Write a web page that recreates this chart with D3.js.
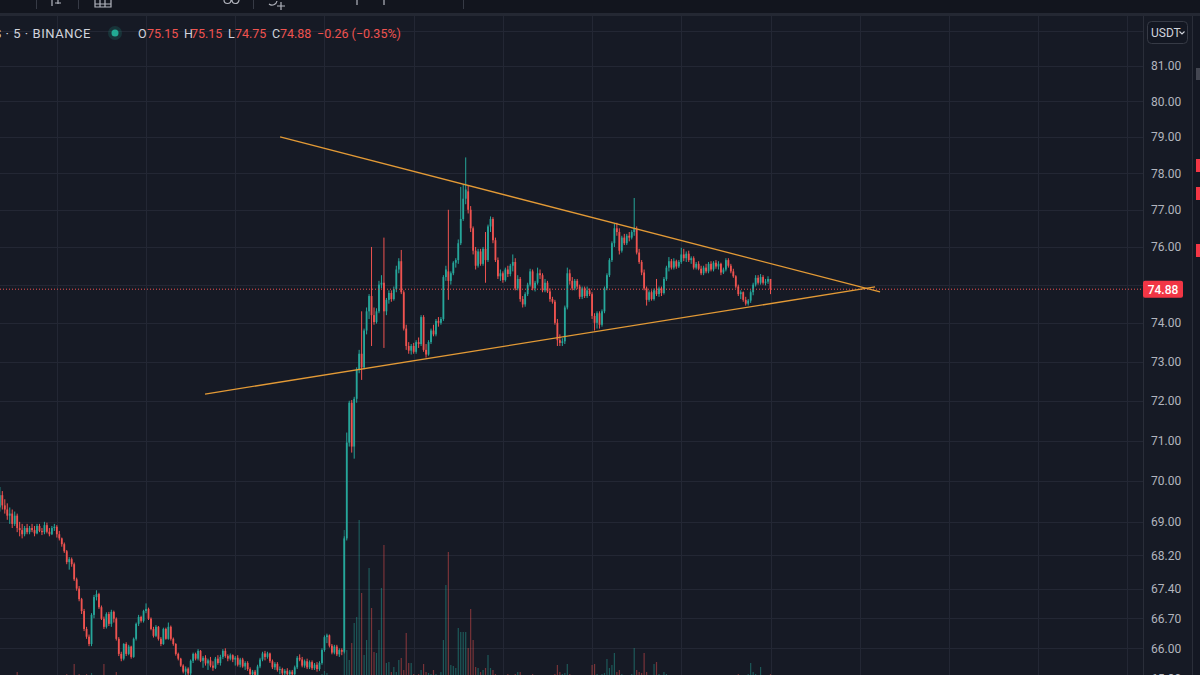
<!DOCTYPE html>
<html><head><meta charset="utf-8">
<script src="https://cdn.jsdelivr.net/npm/d3@7"></script>
<style>html,body{margin:0;padding:0;background:#161a25;overflow:hidden}</style>
</head><body><svg id="c" width="1200" height="675"></svg>
<script>
// ---- DATA (5-minute candles, open/high/low/close) ----
const ohlc = [
[69.35,69.85,69.25,69.65],[69.65,69.75,69.30,69.40],[69.40,69.55,69.20,69.30],[69.30,69.45,69.05,69.15],[69.15,69.35,68.95,69.20],
[69.20,69.30,68.85,68.95],[68.95,69.25,68.90,69.15],[69.15,69.20,68.75,68.85],[68.85,69.00,68.65,68.80],[68.80,68.95,68.60,68.70],
[68.70,68.90,68.65,68.85],[68.85,68.95,68.70,68.75],[68.75,68.90,68.70,68.85],[68.85,68.95,68.75,68.80],[68.80,68.90,68.65,68.72],
[68.72,68.95,68.70,68.90],[68.90,68.95,68.75,68.78],[68.78,68.85,68.68,68.75],[68.75,69.00,68.70,68.92],[68.92,68.98,68.72,68.76],
[68.76,68.85,68.65,68.70],[68.70,68.90,68.68,68.85],[68.85,68.95,68.78,68.88],[68.88,68.92,68.62,68.70],[68.70,68.78,68.55,68.60],
[68.60,68.62,68.40,68.46],[68.46,68.50,68.25,68.29],[68.29,68.32,67.98,68.03],[68.03,68.15,67.85,68.10],[68.10,68.14,67.92,67.98],
[67.98,68.02,67.58,67.62],[67.62,67.66,67.35,67.40],[67.40,67.46,67.10,67.15],[67.15,67.18,66.80,66.87],[66.87,66.92,66.40,66.45],
[66.45,66.50,66.22,66.27],[66.27,66.32,66.05,66.10],[66.10,66.82,66.05,66.78],[66.78,67.25,66.70,67.20],[67.20,67.36,67.12,67.27],
[67.27,67.30,66.92,66.96],[66.96,67.00,66.66,66.69],[66.69,66.74,66.45,66.50],[66.50,66.84,66.46,66.80],[66.80,66.85,66.52,66.57],
[66.57,66.90,66.50,66.85],[66.85,66.88,66.60,66.69],[66.69,66.72,66.18,66.22],[66.22,66.26,65.82,65.87],[65.87,65.92,65.70,65.76],
[65.76,66.12,65.72,66.10],[66.10,66.14,65.82,65.87],[65.87,66.08,65.84,66.04],[66.04,66.06,65.76,65.80],[65.80,66.25,65.78,66.22],
[66.22,66.60,66.18,66.57],[66.57,66.78,66.52,66.73],[66.73,66.76,66.60,66.64],[66.64,66.90,66.60,66.87],[66.87,67.05,66.82,66.92],
[66.92,66.95,66.66,66.69],[66.69,66.72,66.42,66.45],[66.45,66.50,66.25,66.29],[66.29,66.54,66.26,66.50],[66.50,66.52,66.18,66.22],
[66.22,66.26,66.05,66.10],[66.10,66.48,66.08,66.45],[66.45,66.48,66.20,66.22],[66.22,66.60,66.20,66.50],[66.50,66.53,66.18,66.22],
[66.22,66.25,66.06,66.10],[66.10,66.12,65.83,65.87],[65.87,65.90,65.72,65.76],[65.76,65.78,65.57,65.60],[65.60,65.63,65.42,65.46],
[65.46,65.58,65.38,65.53],[65.53,65.56,65.35,65.42],[65.42,65.74,65.38,65.71],[65.71,65.90,65.66,65.87],[65.87,65.90,65.72,65.76],
[65.76,65.98,65.72,65.94],[65.94,65.96,65.68,65.71],[65.71,65.82,65.55,65.78],[65.78,65.84,65.60,65.65],[65.65,65.76,65.50,65.72],
[65.72,65.80,65.56,65.60],[65.60,65.70,65.48,65.55],[65.55,65.80,65.52,65.76],[65.76,65.84,65.62,65.66],[65.66,65.85,65.60,65.80],
[65.80,65.98,65.75,65.94],[65.94,66.00,65.78,65.82],[65.82,65.86,65.70,65.76],[65.76,65.88,65.72,65.84],[65.84,65.86,65.68,65.74],
[65.74,65.82,65.60,65.78],[65.78,65.84,65.58,65.62],[65.62,65.78,65.56,65.74],[65.74,65.78,65.55,65.58],[65.58,65.70,65.50,65.66],
[65.66,65.70,65.48,65.52],[65.52,65.56,65.36,65.40],[65.40,65.50,65.33,65.46],[65.46,65.50,65.34,65.38],[65.38,65.62,65.35,65.58],
[65.58,65.78,65.54,65.74],[65.74,65.92,65.70,65.88],[65.88,65.94,65.72,65.80],[65.80,65.92,65.76,65.88],[65.88,65.90,65.66,65.70],
[65.70,65.74,65.52,65.56],[65.56,65.68,65.50,65.64],[65.64,65.68,65.46,65.50],[65.50,65.58,65.40,65.52],[65.52,65.55,65.36,65.42],
[65.42,65.52,65.36,65.48],[65.48,65.54,65.35,65.40],[65.40,65.50,65.34,65.46],[65.46,65.50,65.35,65.40],[65.40,65.60,65.36,65.56],
[65.56,65.82,65.52,65.78],[65.78,65.86,65.70,65.74],[65.74,65.80,65.56,65.60],[65.60,65.74,65.55,65.70],[65.70,65.76,65.52,65.56],
[65.56,65.72,65.52,65.68],[65.68,65.72,65.50,65.54],[65.54,65.66,65.50,65.62],[65.62,65.68,65.46,65.52],[65.52,65.70,65.48,65.66],
[65.66,66.00,65.62,65.96],[65.96,66.30,65.92,66.26],[66.26,66.34,66.12,66.30],[66.30,66.32,66.02,66.06],[66.06,66.10,65.86,65.90],
[65.90,66.08,65.86,66.04],[66.04,66.08,65.82,65.86],[65.86,66.00,65.80,65.96],[65.96,66.00,65.84,65.92],[65.92,68.65,65.88,68.60],
[68.60,71.20,68.55,70.95],[70.95,72.00,70.85,71.95],[71.95,72.02,70.70,70.85],[70.85,72.10,70.55,72.05],[72.05,72.85,71.95,72.80],
[72.80,73.30,72.70,73.20],[73.20,74.30,72.53,72.85],[72.85,73.85,72.80,73.80],[73.80,74.40,73.70,74.30],[74.30,74.75,74.10,74.70],
[74.70,76.00,73.40,74.20],[74.20,74.40,73.95,74.02],[74.02,74.38,73.98,74.30],[74.30,75.10,74.25,75.00],[75.00,75.25,74.90,75.05],
[75.05,76.25,73.35,74.30],[74.30,74.65,74.20,74.60],[74.60,74.85,74.50,74.78],[74.78,74.85,74.55,74.62],[74.62,74.95,74.58,74.88],
[74.88,75.50,74.80,75.40],[75.40,75.70,75.30,75.62],[75.62,75.92,74.75,74.80],[74.80,74.85,73.80,73.85],[73.85,73.95,73.30,73.40],
[73.40,73.50,73.20,73.28],[73.28,73.45,73.18,73.40],[73.40,73.48,73.20,73.25],[73.25,73.55,73.20,73.50],[73.50,73.62,73.35,73.45],
[73.45,74.20,73.40,74.15],[74.15,74.20,73.25,73.30],[73.30,73.45,73.10,73.18],[73.18,73.55,73.15,73.50],[73.50,73.85,73.45,73.80],
[73.80,73.95,73.65,73.70],[73.70,74.10,73.65,74.05],[74.05,74.15,73.90,74.00],[74.00,74.15,73.95,74.10],[74.10,75.25,74.05,75.20],
[75.20,75.50,75.10,75.40],[75.35,77.00,74.60,75.10],[75.10,75.35,75.00,75.30],[75.30,75.62,75.25,75.58],[75.58,75.70,75.45,75.65],
[75.65,76.20,75.55,76.10],[76.10,77.62,76.05,76.75],[76.75,77.70,76.70,77.30],[77.30,78.43,77.15,77.55],[77.50,77.65,76.90,77.00],
[77.00,77.10,76.40,76.50],[76.50,76.55,75.80,75.90],[75.90,76.00,75.40,75.50],[75.50,75.95,75.45,75.88],[75.88,75.95,75.50,75.55],
[75.55,76.00,75.50,75.95],[75.95,76.40,75.05,75.65],[75.65,76.60,75.60,76.55],[76.55,76.82,76.40,76.75],[76.75,76.80,76.10,76.18],
[76.18,76.25,75.60,75.65],[75.65,75.72,75.15,75.22],[75.22,75.40,75.10,75.30],[75.30,75.35,75.05,75.12],[75.12,75.45,75.08,75.40],
[75.40,75.50,75.20,75.28],[75.28,75.55,75.22,75.50],[75.50,75.80,75.35,75.60],[75.60,75.70,74.85,74.90],[74.90,75.25,74.85,75.15],
[75.15,75.20,74.55,74.62],[74.62,74.70,74.40,74.48],[74.48,74.80,74.42,74.75],[74.75,75.05,74.70,75.00],[75.00,75.42,74.95,75.35],
[75.35,75.40,74.85,74.90],[74.90,75.10,74.82,75.05],[75.05,75.45,75.00,75.30],[75.30,75.40,75.15,75.25],[75.25,75.30,74.80,74.85],
[74.85,75.15,74.80,75.05],[75.05,75.10,74.78,74.82],[74.82,74.90,74.55,74.62],[74.62,74.68,74.50,74.55],[74.55,74.60,73.95,74.00],
[74.00,74.10,73.40,73.55],[73.55,73.70,73.40,73.48],[73.48,73.60,73.40,73.52],[73.52,74.45,73.45,74.40],[74.40,75.45,74.35,75.30],
[75.30,75.40,75.00,75.10],[75.10,75.20,74.85,74.90],[74.90,75.15,74.85,75.10],[75.10,75.15,74.88,74.95],[74.95,75.00,74.62,74.68],
[74.68,74.95,74.62,74.90],[74.90,74.95,74.65,74.70],[74.70,74.95,74.65,74.85],[74.85,74.90,74.70,74.75],[74.75,74.80,74.10,74.18],
[74.18,74.25,73.80,74.00],[74.00,74.30,73.85,74.25],[74.25,74.30,73.85,73.95],[73.95,74.35,73.90,74.30],[74.30,74.95,74.25,74.90],
[74.90,75.30,74.85,75.25],[75.25,75.70,75.20,75.65],[75.65,76.15,75.60,76.10],[76.10,76.62,76.00,76.50],[76.50,76.65,76.30,76.40],
[76.40,76.50,75.80,75.90],[75.90,76.30,75.85,76.25],[76.25,76.35,76.05,76.10],[76.10,76.35,76.05,76.30],[76.30,76.40,76.15,76.25],
[76.25,76.45,76.20,76.40],[76.40,77.32,76.30,76.48],[76.48,76.55,75.80,75.85],[75.85,75.95,75.55,75.60],[75.60,75.65,75.25,75.32],
[75.32,75.40,74.85,74.90],[74.90,74.95,74.45,74.60],[74.60,74.85,74.55,74.80],[74.80,74.85,74.58,74.62],[74.62,74.90,74.58,74.85],
[74.85,75.15,74.70,74.75],[74.75,74.95,74.68,74.90],[74.90,74.95,74.70,74.78],[74.78,75.20,74.74,75.15],[75.15,75.50,75.10,75.45],
[75.45,75.73,75.35,75.62],[75.62,75.68,75.40,75.45],[75.45,75.70,75.40,75.62],[75.62,75.66,75.42,75.48],[75.48,75.65,75.44,75.60],
[75.60,75.98,75.55,75.80],[75.80,75.95,75.62,75.70],[75.70,75.88,75.60,75.82],[75.82,75.90,75.60,75.65],[75.65,75.75,75.55,75.70],
[75.70,75.75,75.40,75.45],[75.45,75.60,75.40,75.55],[75.55,75.62,75.38,75.42],[75.42,75.50,75.25,75.30],[75.30,75.50,75.25,75.45],
[75.45,75.55,75.30,75.35],[75.35,75.60,75.30,75.55],[75.55,75.62,75.35,75.40],[75.40,75.62,75.35,75.58],[75.58,75.65,75.42,75.48],
[75.48,75.62,75.40,75.55],[75.55,75.58,75.25,75.32],[75.32,75.45,75.28,75.40],[75.40,75.70,75.35,75.65],[75.65,75.70,75.45,75.50],
[75.50,75.55,75.30,75.35],[75.35,75.42,75.18,75.22],[75.22,75.25,74.90,74.95],[74.95,75.00,74.70,74.75],[74.75,74.85,74.62,74.80],
[74.80,74.82,74.55,74.60],[74.60,74.68,74.45,74.50],[74.50,74.62,74.45,74.58],[74.58,74.85,74.52,74.80],[74.80,75.05,74.72,75.00],
[75.00,75.25,74.95,75.18],[75.18,75.25,75.00,75.05],[75.05,75.28,75.00,75.20],[75.20,75.25,75.00,75.05],[75.05,75.15,74.98,75.08],
[75.08,75.22,75.02,75.15],[75.15,75.15,74.75,74.88]
];
const volumes = [
3,4,3,3,2,3,4,8,3,2,3,2,3,2,3,4,2,3,4,3,
3,2,3,3,4,5,4,6,3,4,16,5,6,4,5,6,4,7,5,3,
4,5,16,4,3,4,3,8,5,3,4,3,2,3,4,5,3,2,3,4,
3,4,3,2,3,4,3,2,4,3,2,3,4,5,3,2,3,4,3,2,
3,2,3,2,3,2,3,4,2,3,4,3,2,3,2,3,2,3,2,3,
2,3,4,2,3,4,3,2,3,2,3,2,3,2,2,3,2,3,2,3,
4,3,2,3,2,3,2,3,2,3,6,9,7,4,3,3,4,3,5,
150,30,20,37,57,63,160,87,25,40,112,72,28,27,50,92,135,17,18,8,13,
8,20,22,10,47,17,17,6,5,6,10,16,8,7,6,10,6,5,8,40,
95,128,15,14,12,52,48,48,48,32,71,40,13,12,8,10,12,25,12,10,
6,5,4,5,4,6,5,4,6,8,8,5,4,4,5,6,4,5,4,5,
4,5,4,5,6,15,8,6,7,16,6,5,4,5,4,5,4,3,4,15,
16,6,5,6,7,21,12,15,27,8,10,6,5,4,5,6,32,10,8,7,
27,8,5,4,16,18,6,5,8,6,5,4,5,4,3,5,4,3,4,3,
4,3,4,3,4,3,4,3,4,3,4,3,4,3,4,3,5,4,6,5,
4,5,6,17,8,6,5,13,5,4,5,6
];
const priceTicks = [82, 81, 80, 79, 78, 77, 76, 75, 74, 73, 72, 71, 70, 69, 68.2, 67.4, 66.7, 66, 65.3];
const candlesPerGrid = 36;
const trendUpper = [[113.1, 79.00], [355.2, 74.81]];
const trendLower = [[82.8, 72.17], [353.2, 74.94]];
const lastPrice = 74.88;
const legendKeys = ["O", "H", "L", "C"];
const legendValues = ["75.15", "75.15", "74.75", "74.88"];
const legendChange = "\u22120.26 (\u22120.35%)";
const symbolTitle = "Litecoin / TetherUS \u00b7 5 \u00b7 BINANCE";
const currency = "USDT";

// ---- LAYOUT ----
const W = 1200, H = 675;
const plotRight = 1143, plotTop = 16;
const BG = "#161a25", GRID = "#232734", BORDER = "#2a2e39";
const UP = "#26a69a", DOWN = "#ef5350";
const FONT = "Roboto, 'Noto Sans', sans-serif";

const n = ohlc.length;
const x = d3.scaleLinear().domain([0, n - 1]).range([-0.16, 770.5]);
const y = d3.scaleLog().domain([66, 81]).range([648.3, 65.7]);
const yv = d3.scaleLinear().domain([0, 160]).range([680, 520]);

const svg = d3.select("#c");
svg.append("rect").attr("width", W).attr("height", H).attr("fill", BG);

svg.append("defs").append("clipPath").attr("id", "plot")
  .append("rect").attr("x", 0).attr("y", plotTop).attr("width", plotRight).attr("height", H - plotTop);

const plot = svg.append("g").attr("clip-path", "url(#plot)");

// grid - horizontal
plot.append("g").selectAll("line").data(priceTicks).join("line")
  .attr("x1", 0).attr("x2", plotRight)
  .attr("y1", d => Math.round(y(d)) + 0.5).attr("y2", d => Math.round(y(d)) + 0.5)
  .attr("stroke", GRID).attr("stroke-width", 1);
// grid - vertical (every 36 candles = 3 hours)
const vIdx = d3.range(-8, 5).map(k => (n - 1) + k * candlesPerGrid);
plot.append("g").selectAll("line").data(vIdx).join("line")
  .attr("x1", d => Math.round(x(d)) + 0.5).attr("x2", d => Math.round(x(d)) + 0.5)
  .attr("y1", plotTop).attr("y2", H)
  .attr("stroke", GRID).attr("stroke-width", 1);

// volume
const vols = volumes.slice(0, n);
plot.append("g").selectAll("rect").data(vols).join("rect")
  .attr("x", (d, i) => x(i) - 0.6).attr("width", 1.2)
  .attr("y", d => yv(d)).attr("height", d => yv(0) - yv(d))
  .attr("fill", (d, i) => ohlc[i][3] >= ohlc[i][0] ? UP : DOWN)
  .attr("opacity", 0.45);

// candles
const cg = plot.append("g");
cg.selectAll("line").data(ohlc).join("line")
  .attr("x1", (d, i) => x(i)).attr("x2", (d, i) => x(i))
  .attr("y1", d => y(d[1])).attr("y2", d => y(d[2]))
  .attr("stroke", d => d[3] >= d[0] ? UP : DOWN).attr("stroke-width", 1);
cg.selectAll("rect").data(ohlc).join("rect")
  .attr("x", (d, i) => x(i) - 0.9).attr("width", 1.8)
  .attr("y", d => y(Math.max(d[0], d[3])))
  .attr("height", d => Math.max(1, Math.abs(y(d[0]) - y(d[3]))))
  .attr("fill", d => d[3] >= d[0] ? UP : DOWN);

// current price dotted line
plot.append("line").attr("x1", 0).attr("x2", plotRight)
  .attr("y1", y(lastPrice)).attr("y2", y(lastPrice))
  .attr("stroke", DOWN).attr("stroke-width", 1).attr("stroke-dasharray", "1,2");

// trend lines
plot.append("g").selectAll("line").data([trendUpper, trendLower]).join("line")
  .attr("x1", d => x(d[0][0])).attr("y1", d => y(d[0][1]))
  .attr("x2", d => x(d[1][0])).attr("y2", d => y(d[1][1]))
  .attr("stroke", "#e39a36").attr("stroke-width", 1.3);

// ---- price axis ----
svg.append("line").attr("x1", plotRight + 0.5).attr("x2", plotRight + 0.5).attr("y1", plotTop).attr("y2", H)
  .attr("stroke", BORDER);
const axisTicks = priceTicks.filter(t => Math.abs(y(t) - y(lastPrice)) > 12);
svg.append("g").selectAll("text").data(axisTicks).join("text")
  .attr("x", 1151).attr("y", d => y(d) + 4.5)
  .attr("font-family", FONT).attr("font-size", 12).attr("fill", "#b2b5be")
  .text(d => d.toFixed(2));

// last price label
svg.append("rect").attr("x", 1143).attr("y", y(lastPrice) - 8.5).attr("width", 40).attr("height", 17)
  .attr("rx", 2).attr("fill", "#f23645");
svg.append("text").attr("x", 1163).attr("y", y(lastPrice) + 4.5).attr("text-anchor", "middle")
  .attr("font-family", FONT).attr("font-size", 12).attr("font-weight", 500).attr("fill", "#ffffff")
  .text(lastPrice.toFixed(2));

// currency button
svg.append("rect").attr("x", 1147.5).attr("y", 21.5).attr("width", 40).attr("height", 22).attr("rx", 4)
  .attr("fill", "#131722").attr("stroke", "#363a45");
svg.append("text").attr("x", 1151).attr("y", 37).attr("font-family", FONT).attr("font-size", 12)
  .attr("fill", "#d1d4dc").text(currency);
svg.append("path").attr("d", "M1179.5,31.5 l2.5,2.5 l2.5,-2.5").attr("fill", "none")
  .attr("stroke", "#d1d4dc").attr("stroke-width", 1.1);

// right side strip (neighbouring panel)
svg.append("rect").attr("x", 1192).attr("y", plotTop).attr("width", 8).attr("height", H - plotTop).attr("fill", "#141823");
svg.append("line").attr("x1", 1192.5).attr("x2", 1192.5).attr("y1", plotTop).attr("y2", H).attr("stroke", BORDER);
svg.append("rect").attr("x", 1196).attr("y", 68).attr("width", 4).attr("height", 12).attr("fill", "#434651");
[159, 187, 244].forEach(t => svg.append("rect").attr("x", 1196).attr("y", t).attr("width", 4).attr("height", 13).attr("fill", "#f23645"));

// ---- top toolbar (cropped) ----
svg.append("rect").attr("x", 0).attr("y", 0).attr("width", W).attr("height", 13).attr("fill", "#12151e");
svg.append("rect").attr("x", 0).attr("y", 13).attr("width", W).attr("height", 3).attr("fill", "#242833");
[36, 78, 253, 463].forEach(sx => svg.append("line").attr("x1", sx + 0.5).attr("x2", sx + 0.5)
  .attr("y1", 0).attr("y2", 9).attr("stroke", "#363a45"));
const ic = svg.append("g").attr("fill", "none").attr("stroke", "#b2b5be").attr("stroke-width", 1.2);
ic.append("path").attr("d", "M52,0v6 M58,0v4 M55,3h6");
ic.append("path").attr("d", "M95,0v7h16v-7 M100,0v7 M105,0v7 M95,4h16");
ic.append("path").attr("d", "M224,0a3.5,3.5 0 0 0 7,0 M232,0a3.5,3.5 0 0 0 7,0");
ic.append("path").attr("d", "M277,1a5,5 0 0 1 -8,3 M277,6h8 M281,2v8");
ic.append("path").attr("d", "M357,0v5 M384,0v5");

// ---- legend ----
svg.append("text").attr("x", 91).attr("y", 38).attr("text-anchor", "end")
  .attr("font-family", FONT).attr("font-size", 13).attr("letter-spacing", 0.55)
  .attr("fill", "#d1d4dc").text(symbolTitle);
svg.append("circle").attr("cx", 115).attr("cy", 33).attr("r", 7).attr("fill", "rgba(34,171,148,0.18)");
svg.append("circle").attr("cx", 115).attr("cy", 33).attr("r", 3.5).attr("fill", "#22ab94");
const keyX = [138, 184, 228, 272];
const valX = [147, 191, 235, 280];
const lg = svg.append("g").attr("font-family", FONT).attr("font-size", 12.5);
legendKeys.forEach((k, i) => {
  lg.append("text").attr("x", keyX[i]).attr("y", 38).attr("fill", "#d1d4dc").text(k);
  lg.append("text").attr("x", valX[i]).attr("y", 38).attr("fill", DOWN).text(legendValues[i]);
});
lg.append("text").attr("x", 317).attr("y", 38).attr("fill", DOWN).text(legendChange);
</script>
</body></html>
